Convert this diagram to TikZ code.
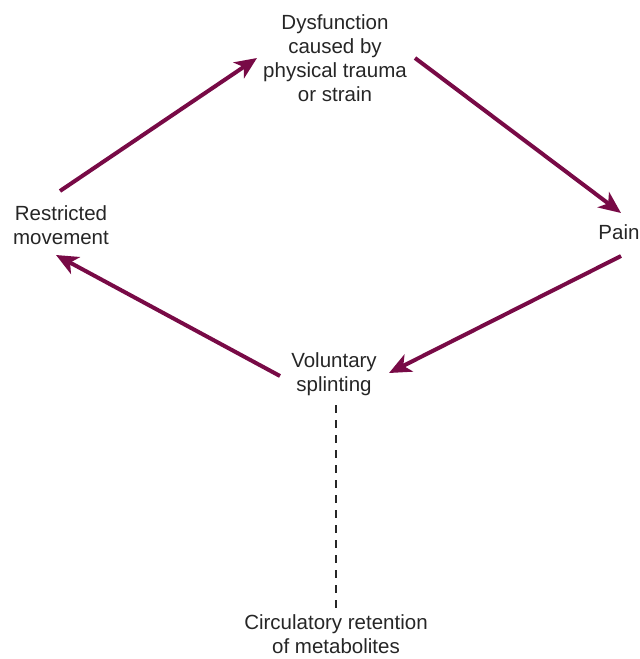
\documentclass[tikz,border=0pt]{standalone}
\usepackage{fontspec}
\setmainfont{Liberation Sans}
\usetikzlibrary{arrows.meta}
\definecolor{cyclecol}{HTML}{780A46}
\begin{document}
\begin{tikzpicture}[x=1pt,y=-1pt,
  lbl/.style={align=center,inner sep=0pt,font=\fontsize{20.5}{24}\selectfont,text=black!85},
  arr/.style={draw=cyclecol,line width=4pt,-{Stealth[length=22pt,width=19pt,inset=6pt]}},
  dashline/.style={draw=black!85,line width=1.2pt,dash pattern=on 8pt off 7pt}]
\useasboundingbox (0,0) rectangle (640,659);
\node[lbl] (dys) at (335,58) {Dysfunction\\caused by\\physical trauma\\or strain};
\node[lbl] (rest) at (61,225) {Restricted\\movement};
\node[lbl] (pain) at (619,232) {Pain};
\node[lbl] (vol) at (334,374) {Voluntary\\splinting};
\node[lbl] (circ) at (336,634) {Circulatory retention\\of metabolites};
\draw[arr] ([shift={(-1,-34)}]rest.center) -- ([shift={(-78,0)}]dys.center);
\draw[arr] ([shift={(80,0)}]dys.center) -- ([shift={(2,-19)}]pain.center);
\draw[arr] ([shift={(2,24)}]pain.center) -- ([shift={(55,-1)}]vol.center);
\draw[arr] ([shift={(-54,2)}]vol.center) -- ([shift={(-5,30)}]rest.center);
\draw[dashline] ([shift={(2,31)}]vol.center) -- ([shift={(0,-22)}]circ.center);
\end{tikzpicture}
\end{document}
